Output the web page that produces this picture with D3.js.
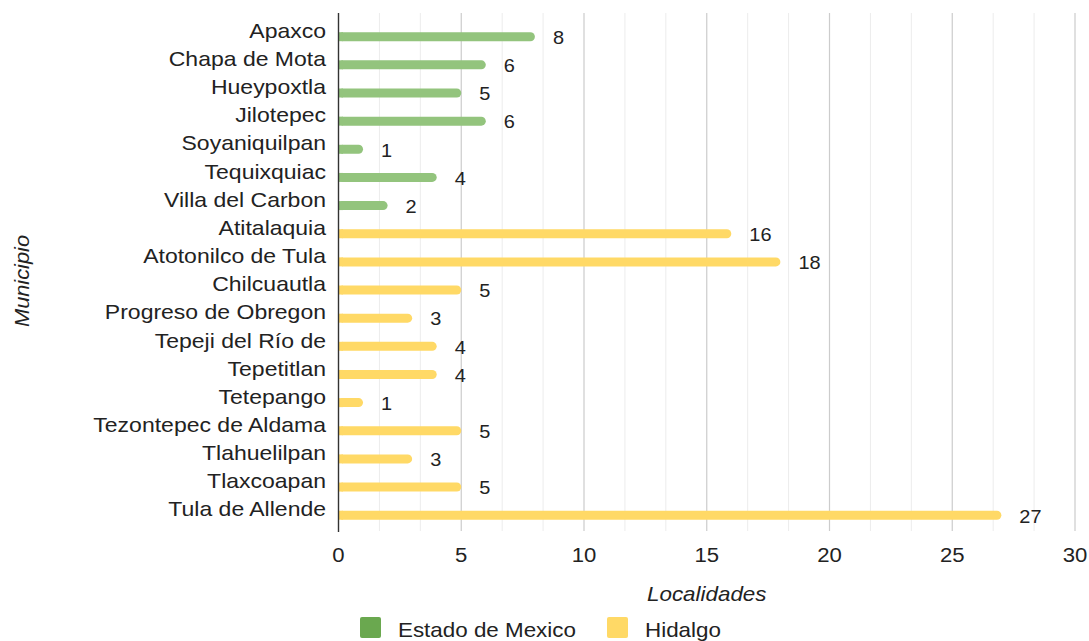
<!DOCTYPE html>
<html>
<head>
<meta charset="utf-8">
<script src="https://cdn.jsdelivr.net/npm/d3@7"></script>
<style>
  html, body { margin: 0; padding: 0; background: #fff; }
  svg { display: block; font-family: "Liberation Sans", Arial, sans-serif; }
</style>
</head>
<body>
<svg id="chart" width="1089" height="641"></svg>
<script>
// Localidades por municipio
const municipios = [
  "Apaxco", "Chapa de Mota", "Hueypoxtla", "Jilotepec", "Soyaniquilpan",
  "Tequixquiac", "Villa del Carbon", "Atitalaquia", "Atotonilco de Tula",
  "Chilcuautla", "Progreso de Obregon", "Tepeji del Río de", "Tepetitlan",
  "Tetepango", "Tezontepec de Aldama", "Tlahuelilpan", "Tlaxcoapan", "Tula de Allende"
];
const estados = [
  "Estado de Mexico", "Estado de Mexico", "Estado de Mexico", "Estado de Mexico",
  "Estado de Mexico", "Estado de Mexico", "Estado de Mexico",
  "Hidalgo", "Hidalgo", "Hidalgo", "Hidalgo", "Hidalgo", "Hidalgo",
  "Hidalgo", "Hidalgo", "Hidalgo", "Hidalgo", "Hidalgo"
];
const localidades = [8, 6, 5, 6, 1, 4, 2, 16, 18, 5, 3, 4, 4, 1, 5, 3, 5, 27];
const series = ["Estado de Mexico", "Hidalgo"];
const xTicks = [0, 5, 10, 15, 20, 25, 30];

const rows = municipios.map((m, i) => ({ name: m, estado: estados[i], value: localidades[i] }));

const barColor = d3.scaleOrdinal().domain(series).range(["#93c47d", "#ffd966"]);
const legendColor = d3.scaleOrdinal().domain(series).range(["#6aa84f", "#ffd966"]);

const svg = d3.select("#chart");
const plotTop = 13, plotBottom = 531;

const x = d3.scaleLinear().domain([0, 30]).range([338.5, 1075]);
const y = d3.scalePoint().domain(municipios).range([36.7, 515.2]);

// horizontally widened text helper
const SX = 1.12;
function label(g, px, py, txt, opts = {}) {
  const t = g.append("g")
    .attr("transform", `translate(${px},${py})` + (opts.rotate ? ` rotate(${opts.rotate})` : "") + ` scale(${opts.sx || SX},1)`)
    .append("text")
    .attr("text-anchor", opts.anchor || "start")
    .attr("font-size", opts.size || 20)
    .attr("fill", opts.fill || "#222")
    .text(txt);
  if (opts.italic) t.attr("font-style", "italic");
  return t;
}

// gridlines: minor every 5/3, major every 5
const minor = d3.range(0, 30.001, 5 / 3).filter(v => Math.abs(v / 5 - Math.round(v / 5)) > 1e-6);
svg.append("g").selectAll("line").data(minor).join("line")
  .attr("x1", d => x(d)).attr("x2", d => x(d))
  .attr("y1", plotTop).attr("y2", plotBottom)
  .attr("stroke", "#ececec").attr("stroke-width", 1);
svg.append("g").selectAll("line").data(xTicks.slice(1)).join("line")
  .attr("x1", d => x(d)).attr("x2", d => x(d))
  .attr("y1", plotTop).attr("y2", plotBottom)
  .attr("stroke", "#cccccc").attr("stroke-width", 1.2);

// bars
const barH = 9;
svg.append("g").selectAll("rect").data(rows).join("rect")
  .attr("x", x(0))
  .attr("y", d => y(d.name) - barH / 2)
  .attr("width", d => x(d.value) - x(0))
  .attr("height", barH)
  .attr("rx", barH / 2)
  .attr("fill", d => barColor(d.estado));
// square off left ends at the axis
svg.append("g").selectAll("rect").data(rows).join("rect")
  .attr("x", x(0))
  .attr("y", d => y(d.name) - barH / 2)
  .attr("width", d => Math.min(barH / 2, x(d.value) - x(0)))
  .attr("height", barH)
  .attr("fill", d => barColor(d.estado));

// value labels
const vg = svg.append("g");
rows.forEach(d => label(vg, x(d.value) + 18, y(d.name) + 7.3, d.value, { size: 19, sx: 1.05 }));

// axis line
svg.append("line")
  .attr("x1", x(0)).attr("x2", x(0))
  .attr("y1", plotTop).attr("y2", plotBottom + 1)
  .attr("stroke", "#333").attr("stroke-width", 1.4);

// category labels
const cg = svg.append("g");
municipios.forEach(m => label(cg, 326, y(m) + 1.2, m, { anchor: "end", size: 20, sx: 1.15 }));

// x tick labels
const tg = svg.append("g");
xTicks.forEach(t => label(tg, x(t), 562, t, { anchor: "middle", size: 20.5, sx: 1.08 }));

// axis titles
label(svg, (x(0) + x(30)) / 2, 601, "Localidades", { anchor: "middle", italic: true, size: 20 });
label(svg, 29, 281, "Municipio", { anchor: "middle", italic: true, size: 20, rotate: -90, sx: 1.09 });

// legend
const lg = svg.append("g");
const legendPos = [360, 607];
series.forEach((s, i) => {
  lg.append("rect")
    .attr("x", legendPos[i]).attr("y", 617)
    .attr("width", 21).attr("height", 21).attr("rx", 2)
    .attr("fill", legendColor(s));
  label(lg, legendPos[i] + 38, 637, s, { size: 20 });
});
</script>
</body>
</html>
